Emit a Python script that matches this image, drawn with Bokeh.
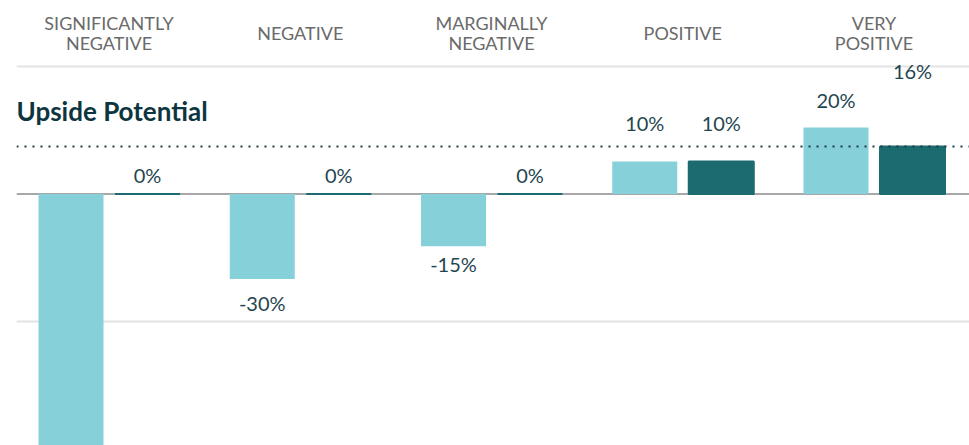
from bokeh.plotting import figure
from bokeh.models import ColumnDataSource, Span, Label, Range1d
from bokeh.transform import dodge
from bokeh.core.properties import value
from bokeh.embed import file_html
from bokeh.resources import INLINE

# ---- data ----
categories = ["SIGNIFICANTLY\nNEGATIVE", "NEGATIVE", "MARGINALLY\nNEGATIVE", "POSITIVE", "VERY\nPOSITIVE"]
light_values = [-100, -26.7, -16.4, 10.2, 20.9]
dark_values = [0, 0, 0, 10.2, 14.9]
light_labels = ["", "-30%", "-15%", "10%", "20%"]
dark_labels = ["0%", "0%", "0%", "10%", "16%"]
upside_potential = 14.9
grid_levels = [-40, 40]

# ---- styles ----
LIGHT = "#86D1D9"
DARK = "#1C6B71"
VALUE_TXT = "#1F4650"
CAT_TXT = "#6A6A6A"
TITLE_TXT = "#0D3540"
FONT = "Lato"
light_label_offsets = [0, 23.5, 17.5, -38.5, -27.5]
dark_label_offsets = [-19, -19, -19, -38.5, -76]

src = ColumnDataSource(dict(
    x=list(range(len(categories))),
    cat=categories,
    light=light_values,
    dark=dark_values,
    light_label=light_labels,
    dark_label=dark_labels,
    light_off=light_label_offsets,
    dark_off=dark_label_offsets,
))

p = figure(width=969, height=445, output_backend="svg", toolbar_location=None,
           x_range=Range1d(-0.4837, 4.4993), y_range=Range1d(-78.9, 58.2),
           min_border_left=16, min_border_right=0, min_border_top=8, min_border_bottom=0)
p.axis.visible = False
p.grid.visible = False
p.outline_line_color = None
p.background_fill_color = "white"
p.border_fill_color = "white"

# grid and zero lines
for g in grid_levels:
    p.add_layout(Span(location=g, dimension="width", line_color="#E3E3E3", line_width=2, level="underlay"))
p.add_layout(Span(location=0, dimension="width", line_color="#A8A8A8", line_width=2, level="underlay"))

# bars
p.vbar(x=dodge("x", -0.1987), top="light", bottom=0, width=0.34, source=src,
       fill_color=LIGHT, line_color=None)
p.vbar(x=dodge("x", 0.2013), top="dark", bottom=0, width=0.34, source=src,
       fill_color=DARK, line_color=DARK, line_width=2)

# upside potential dotted line
p.add_layout(Span(location=upside_potential, dimension="width", line_color="#1E3A40",
                  line_width=2, line_dash="2 6"))

# value labels
p.text(x=dodge("x", -0.1987), y="light", text="light_label", y_offset="light_off", source=src,
       text_font=value(FONT), text_font_size="20px", text_color=VALUE_TXT,
       text_align="center", text_baseline="middle")
p.text(x=dodge("x", 0.2013), y="dark", text="dark_label", y_offset="dark_off", source=src,
       text_font=value(FONT), text_font_size="20px", text_color=VALUE_TXT,
       text_align="center", text_baseline="middle")

# category labels at top
p.text(x="x", y=50.4, text="cat", source=src,
       text_font=value(FONT), text_font_size="18px", text_color=CAT_TXT,
       text_align="center", text_baseline="middle", text_line_height=0.92)

# title label
p.add_layout(Label(x=-0.4837, y=25.9, text="Upside Potential",
                   text_font=FONT, text_font_size="26px", text_font_style="bold",
                   text_color=TITLE_TXT, text_baseline="alphabetic", text_align="left"))

open("out.html", "w").write(file_html(p, INLINE))
